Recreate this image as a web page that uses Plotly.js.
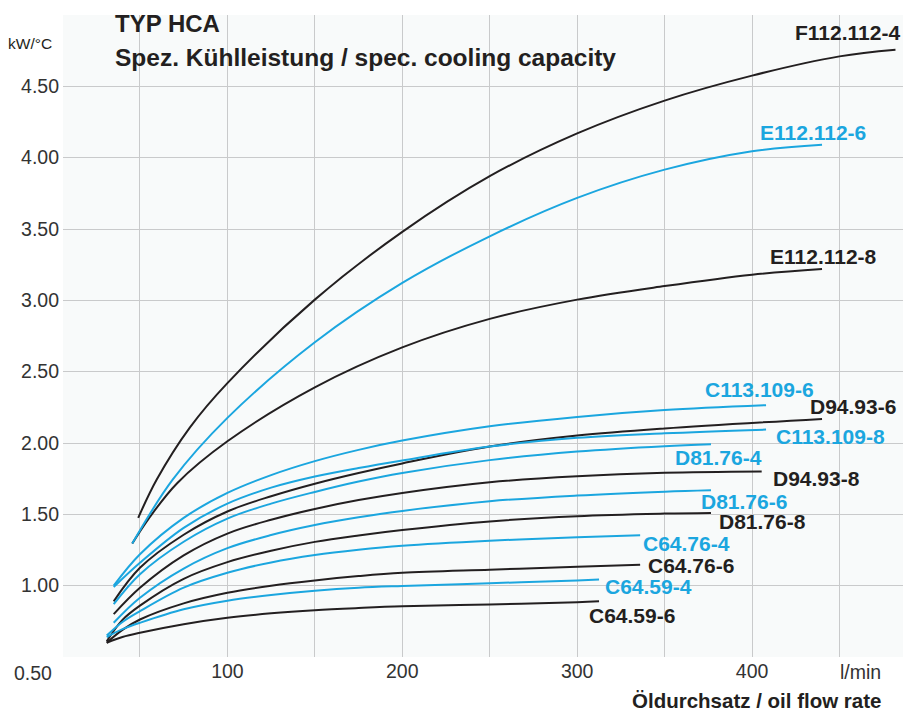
<!DOCTYPE html>
<html>
<head>
<meta charset="utf-8">
<script src="https://cdn.plot.ly/plotly-3.0.1.min.js"></script>
<style>html,body{margin:0;padding:0;background:#fff;}#chart{width:904px;height:713px;}</style>
</head>
<body>
<div id="chart"></div>
<script>
// ---- data ----
const seriesNames = ["E112.112-8","F112.112-4","E112.112-6",
  "D94.93-6","C113.109-6","C113.109-8","D81.76-4",
  "D94.93-8","D81.76-6","D81.76-8","C64.76-4","C64.76-6","C64.59-4","C64.59-6"];

const xE112_112_8 = [45.6, 55, 71.4, 100, 150, 200, 250, 300, 350, 400, 440];
const yE112_112_8 = [1.295, 1.47, 1.72, 2.012, 2.39, 2.67, 2.87, 3.005, 3.10, 3.18, 3.22];

const xF112_112_4 = [49, 59.6, 78.6, 100, 150, 200, 250, 300, 350, 400, 450, 482];
const yF112_112_4 = [1.475, 1.744, 2.11, 2.42, 3.005, 3.48, 3.87, 4.17, 4.40, 4.575, 4.71, 4.757];

const xE112_112_6 = [45.6, 68.7, 100, 150, 200, 250, 300, 350, 400, 440];
const yE112_112_6 = [1.295, 1.743, 2.176, 2.706, 3.122, 3.449, 3.718, 3.916, 4.045, 4.091];

const xD94_93_6 = [35, 50, 75, 100, 125, 150, 175, 200, 250, 300, 350, 440];
const yD94_93_6 = [0.89, 1.125, 1.357, 1.52, 1.627, 1.715, 1.79, 1.857, 1.975, 2.052, 2.102, 2.169];

const xC113_109_6 = [35, 50, 75, 100, 125, 150, 175, 200, 250, 300, 350, 408];
const yC113_109_6 = [1.00, 1.22, 1.475, 1.65, 1.775, 1.873, 1.952, 2.017, 2.117, 2.183, 2.231, 2.265];

const xC113_109_8 = [35, 50, 75, 100, 125, 150, 175, 200, 250, 300, 350, 408];
const yC113_109_8 = [0.99, 1.16, 1.405, 1.575, 1.687, 1.765, 1.825, 1.878, 1.975, 2.036, 2.068, 2.094];

const xD81_76_4 = [35, 50, 75, 100, 125, 150, 175, 200, 250, 300, 350, 376.5];
const yD81_76_4 = [0.87, 1.08, 1.308, 1.47, 1.575, 1.657, 1.73, 1.79, 1.88, 1.94, 1.978, 1.991];

const xD94_93_8 = [35, 50, 75, 100, 125, 150, 175, 200, 250, 300, 350, 405.5];
const yD94_93_8 = [0.80, 0.985, 1.212, 1.365, 1.462, 1.538, 1.60, 1.65, 1.725, 1.767, 1.791, 1.80];

const xD81_76_6 = [35, 50, 75, 100, 125, 150, 175, 200, 250, 300, 350, 376.5];
const yD81_76_6 = [0.74, 0.915, 1.12, 1.263, 1.355, 1.425, 1.479, 1.524, 1.592, 1.632, 1.659, 1.669];

const xD81_76_8 = [31, 40, 50, 75, 100, 125, 150, 175, 200, 250, 300, 350, 376.5];
const yD81_76_8 = [0.61, 0.76, 0.86, 1.048, 1.165, 1.245, 1.307, 1.352, 1.39, 1.45, 1.487, 1.505, 1.51];

const xC64_76_4 = [31, 40, 50, 75, 100, 125, 150, 175, 200, 250, 300, 336];
const yC64_76_4 = [0.65, 0.745, 0.821, 0.986, 1.09, 1.163, 1.215, 1.252, 1.28, 1.315, 1.34, 1.353];

const xC64_76_6 = [31, 40, 50, 75, 100, 125, 150, 175, 200, 250, 300, 336];
const yC64_76_6 = [0.60, 0.69, 0.763, 0.876, 0.95, 1.0, 1.037, 1.067, 1.09, 1.112, 1.132, 1.147];

const xC64_59_4 = [31, 40, 50, 75, 100, 125, 150, 175, 200, 250, 300, 312.5];
const yC64_59_4 = [0.64, 0.695, 0.74, 0.835, 0.895, 0.935, 0.965, 0.986, 0.998, 1.017, 1.037, 1.043];

const xC64_59_6 = [31, 40, 50, 75, 100, 125, 150, 175, 200, 250, 300, 312.5];
const yC64_59_6 = [0.60, 0.64, 0.67, 0.73, 0.775, 0.806, 0.828, 0.843, 0.855, 0.868, 0.884, 0.891];

const xTickVals = [50, 100, 150, 200, 250, 300, 350, 400, 450];
const xTickText = ["", "100", "", "200", "", "300", "", "400", ""];
const yTickVals = [1.0, 1.5, 2.0, 2.5, 3.0, 3.5, 4.0, 4.5];
const yTickText = ["1.00", "1.50", "2.00", "2.50", "3.00", "3.50", "4.00", "4.50"];

const seriesX = [xE112_112_8, xF112_112_4, xE112_112_6, xD94_93_6, xC113_109_6, xC113_109_8, xD81_76_4,
  xD94_93_8, xD81_76_6, xD81_76_8, xC64_76_4, xC64_76_6, xC64_59_4, xC64_59_6];
const seriesY = [yE112_112_8, yF112_112_4, yE112_112_6, yD94_93_6, yC113_109_6, yC113_109_8, yD81_76_4,
  yD94_93_8, yD81_76_6, yD81_76_8, yC64_76_4, yC64_76_6, yC64_59_4, yC64_59_6];

// ---- styles ----
const BLACK = "#231f20", BLUE = "#1ba6df";
const seriesColor = [BLACK, BLACK, BLUE, BLACK, BLUE, BLUE, BLUE, BLACK, BLUE, BLACK, BLUE, BLACK, BLUE, BLACK];
// label placement relative to the curve's end point (pixels)
const labelPlace = [
  {a:"center", dx:1, dy:12},    // E112.112-8
  {a:"right", dx:7, dy:17},     // F112.112-4
  {a:"center", dx:-9, dy:12},   // E112.112-6
  {a:"left", dx:-14, dy:12},    // D94.93-6
  {a:"center", dx:-7, dy:16},   // C113.109-6
  {a:"left", dx:8, dy:-7},      // C113.109-8
  {a:"center", dx:8, dy:-13},   // D81.76-4
  {a:"left", dx:9, dy:-7},      // D94.93-8
  {a:"center", dx:33, dy:-11},  // D81.76-6
  {a:"left", dx:6, dy:-9},      // D81.76-8
  {a:"left", dx:1, dy:-8},      // C64.76-4
  {a:"left", dx:6, dy:-1},      // C64.76-6
  {a:"left", dx:4, dy:-7},      // C64.59-4
  {a:"left", dx:-12, dy:-14}    // C64.59-6
];

const FONT = "Liberation Sans, Arial, Helvetica, sans-serif";

const traces = seriesNames.map((n, i) => ({
  type: "scatter", mode: "lines", name: n,
  x: seriesX[i], y: seriesY[i],
  line: {color: seriesColor[i], width: 2, shape: "spline", smoothing: 1},
  hoverinfo: "x+y+name"
}));

const annotations = seriesNames.map((n, i) => {
  const xs = seriesX[i], ys = seriesY[i];
  return {
    xref: "x", yref: "y", x: xs[xs.length - 1], y: ys[ys.length - 1],
    text: "<b>" + n + "</b>", showarrow: false,
    xanchor: labelPlace[i].a, yanchor: "middle",
    xshift: labelPlace[i].dx, yshift: labelPlace[i].dy,
    font: {family: FONT, size: 21, color: seriesColor[i]}
  };
});

annotations.push(
  {xref:"paper", yref:"paper", x:0.0595, y:0.986, xanchor:"left", yanchor:"middle", showarrow:false,
   text:"<b>TYP HCA</b>", font:{family:FONT, size:24, color:BLACK}},
  {xref:"paper", yref:"paper", x:0.0595, y:0.934, xanchor:"left", yanchor:"middle", showarrow:false,
   text:"<b>Spez. Kühlleistung / spec. cooling capacity</b>", font:{family:FONT, size:24.5, color:BLACK}},
  {xref:"paper", yref:"paper", x:-0.0395, y:0.956, xanchor:"center", yanchor:"middle", showarrow:false,
   text:"kW/°C", font:{family:FONT, size:15.5, color:BLACK}},
  {xref:"paper", yref:"paper", x:0.949, y:-0.0234, xanchor:"center", yanchor:"middle", showarrow:false,
   text:"l/min", font:{family:FONT, size:19.5, color:"#333333"}},
  {xref:"paper", yref:"paper", x:0.976, y:-0.067, xanchor:"right", yanchor:"middle", showarrow:false,
   text:"<b>Öldurchsatz / oil flow rate</b>", font:{family:FONT, size:20.5, color:BLACK}},
  {xref:"paper", yref:"paper", x:-0.0105, y:-0.0249, xanchor:"right", yanchor:"middle", showarrow:false,
   text:"0.50", font:{family:FONT, size:19.5, color:"#333333"}}
);

const layout = {
  width: 904, height: 713,
  margin: {l: 63, r: 1, t: 15, b: 56},
  paper_bgcolor: "#ffffff",
  plot_bgcolor: "#f8fafa",
  showlegend: false,
  xaxis: {
    range: [6, 486.3], tickvals: xTickVals, ticktext: xTickText,
    showgrid: true, gridcolor: "#c9cacb", gridwidth: 1,
    zeroline: false, showline: false, ticks: "",
    tickfont: {family: FONT, size: 19.5, color: "#333333"}
  },
  yaxis: {
    range: [0.5, 5.0], tickvals: yTickVals, ticktext: yTickText,
    showgrid: true, gridcolor: "#c9cacb", gridwidth: 1,
    zeroline: false, showline: false, ticks: "", ticklabelstandoff: 3,
    tickfont: {family: FONT, size: 19.5, color: "#333333"}
  },
  annotations: annotations
};

Plotly.newPlot("chart", traces, layout, {staticPlot: true, displayModeBar: false});
</script>
</body>
</html>
